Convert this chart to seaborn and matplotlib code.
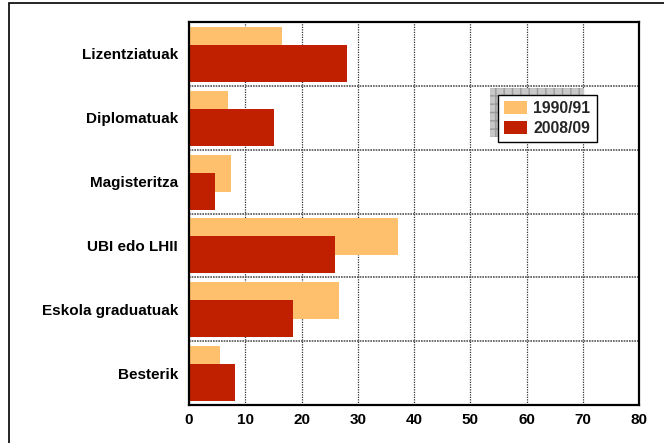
import matplotlib
matplotlib.use('Agg')
import matplotlib.pyplot as plt
from matplotlib.patches import Rectangle
import numpy as np
import pandas as pd
import seaborn as sns

# data
categories = ['Lizentziatuak', 'Diplomatuak', 'Magisteritza',
              'UBI edo LHII', 'Eskola graduatuak', 'Besterik']
vals_1990 = [16.5, 6.9, 7.5, 37.2, 26.7, 5.5]
vals_2008 = [28.0, 15.1, 4.6, 26.0, 18.5, 8.2]
years = ['1990/91', '2008/09']
colors = ['#FFC06E', '#C02000']

df = pd.DataFrame({
    'cat': categories * 2,
    'val': vals_1990 + vals_2008,
    'year': [years[0]] * len(categories) + [years[1]] * len(categories),
})

sns.set_theme(style='white')
plt.rcParams['font.family'] = ['Liberation Sans', 'DejaVu Sans']

fig = plt.figure(figsize=(6.64, 4.43), dpi=100)
ax = fig.add_axes([189 / 664, 1 - 405 / 443, 450 / 664, 383 / 443])

sns.barplot(data=df, x='val', y='cat', hue='year', order=categories,
            hue_order=years, palette=colors, orient='h', dodge=True,
            saturation=1, width=0.8, ax=ax, legend=False)

# overlapping bars: orange slightly above, red below and on top
bar_h = 0.58
offsets = {0: -0.133, 1: 0.148}
n = len(categories)
for i, p in enumerate(ax.patches[:2 * n]):
    k = i // n
    j = i % n
    p.set_height(bar_h)
    p.set_y(j + offsets[k] - bar_h / 2)
    p.set_edgecolor('none')

ax.set_xlim(0, 80)
ax.set_ylim(n - 0.5, -0.5)
ax.set_xticks(np.arange(0, 81, 10))
ax.set_yticks(range(n))
ax.set_yticks(np.arange(0.5, n - 0.5, 1), minor=True)
ax.set_xlabel('')
ax.set_ylabel('')
ax.set_axisbelow(True)
ax.grid(True, axis='x', which='major', color='#333333', linestyle=(0, (1, 1)), linewidth=0.9)
ax.grid(True, axis='y', which='minor', color='#555555', linestyle=(0, (1, 0.6)), linewidth=1.2)
ax.tick_params(axis='both', which='both', length=0)
ax.tick_params(axis='y', pad=8)
ax.tick_params(axis='x', pad=6)
for lab in ax.get_xticklabels() + ax.get_yticklabels():
    lab.set_fontweight('bold')
    lab.set_fontsize(11)
    lab.set_color('black')
for s in ax.spines.values():
    s.set_visible(True)
    s.set_color('black')
    s.set_linewidth(1.6)

# legend with shadow box
x0, x1 = (498 - 189) / 450, (597 - 189) / 450
y1, y0 = (405 - 95) / 383, (405 - 144) / 383
shadow = Rectangle((x0 - 8 / 450, y0 + 7 / 383), x1 - x0 - 5 / 450, y1 - y0,
                   transform=ax.transAxes, facecolor='#c8c8c8',
                   edgecolor='#9a9a9a', hatch='++', linewidth=0, zorder=4)
ax.add_patch(shadow)
handles = [Rectangle((0, 0), 1, 1, facecolor=c, edgecolor='none') for c in colors]
leg = ax.legend(handles, years, loc='upper left', bbox_to_anchor=(x0, y1),
                borderaxespad=0, fancybox=False, framealpha=1,
                edgecolor='black', prop={'weight': 'bold', 'size': 11.3},
                handlelength=1.45, handleheight=0.9, handletextpad=0.4,
                labelspacing=0.3, borderpad=0.4)
leg.get_frame().set_linewidth(1.0)
leg.set_zorder(5)

# outer figure border
fig.patches.append(Rectangle((9 / 664, -0.05), 1.1, 1 - 3 / 443 + 0.05,
                             transform=fig.transFigure, fill=False,
                             edgecolor='black', linewidth=1.2))

fig.savefig('out.png', dpi=100)
